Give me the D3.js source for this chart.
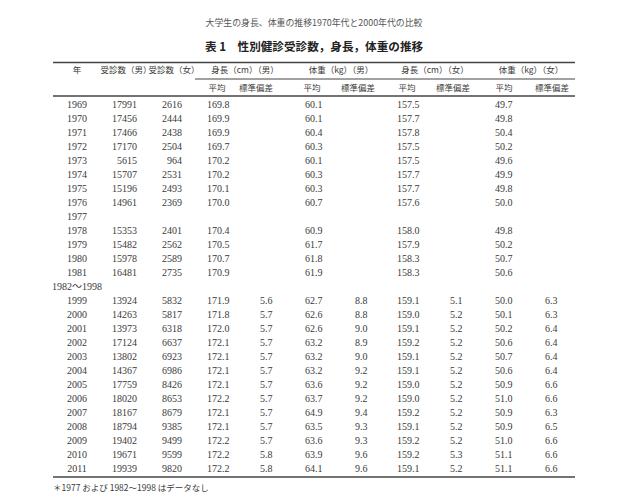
<!DOCTYPE html>
<html><head><meta charset="utf-8">
<script src="https://cdn.jsdelivr.net/npm/d3@7"></script>
<style>
html,body{margin:0;padding:0;background:#fff;}
svg{display:block;}
</style></head>
<body>
<script>
// ---- data ----
const subtitle = "大学生の身長、体重の推移1970年代と2000年代の比較";
const title = "表 1　性別健診受診数，身長，体重の推移";
const footnote = "＊1977 および 1982～1998 はデータなし";
const groupHeaders = ["年", "受診数（男）", "受診数（女）", "身長（cm）（男）", "体重（kg）（男）", "身長（cm）（女）", "体重（kg）（女）"];
const subHeaders = ["平均", "標準偏差"];
const rowLabels = ["1969","1970","1971","1972","1973","1974","1975","1976","1977","1978","1979","1980","1981","1982～1998",
  "1999","2000","2001","2002","2003","2004","2005","2006","2007","2008","2009","2010","2011"];
const maleCount   = [17991,17456,17466,17170,5615,15707,15196,14961,null,15353,15482,15978,16481,null,
  13924,14263,13973,17124,13802,14367,17759,18020,18167,18794,19402,19671,19939];
const femaleCount = [2616,2444,2438,2504,964,2531,2493,2369,null,2401,2562,2589,2735,null,
  5832,5817,6318,6637,6923,6986,8426,8653,8679,9385,9499,9599,9820];
const maleHeight  = [169.8,169.9,169.9,169.7,170.2,170.2,170.1,170.0,null,170.4,170.5,170.7,170.9,null,
  171.9,171.8,172.0,172.1,172.1,172.1,172.1,172.2,172.1,172.1,172.2,172.2,172.2];
const maleHeightSD= [null,null,null,null,null,null,null,null,null,null,null,null,null,null,
  5.6,5.7,5.7,5.7,5.7,5.7,5.7,5.7,5.7,5.7,5.7,5.8,5.8];
const maleWeight  = [60.1,60.1,60.4,60.3,60.1,60.3,60.3,60.7,null,60.9,61.7,61.8,61.9,null,
  62.7,62.6,62.6,63.2,63.2,63.2,63.6,63.7,64.9,63.5,63.6,63.9,64.1];
const maleWeightSD= [null,null,null,null,null,null,null,null,null,null,null,null,null,null,
  8.8,8.8,9.0,8.9,9.0,9.2,9.2,9.2,9.4,9.3,9.3,9.6,9.6];
const femaleHeight= [157.5,157.7,157.8,157.5,157.5,157.7,157.7,157.6,null,158.0,157.9,158.3,158.3,null,
  159.1,159.0,159.1,159.2,159.1,159.1,159.0,159.0,159.2,159.1,159.2,159.2,159.1];
const femaleHeightSD=[null,null,null,null,null,null,null,null,null,null,null,null,null,null,
  5.1,5.2,5.2,5.2,5.2,5.2,5.2,5.2,5.2,5.2,5.2,5.3,5.2];
const femaleWeight= [49.7,49.8,50.4,50.2,49.6,49.9,49.8,50.0,null,49.8,50.2,50.7,50.6,null,
  50.0,50.1,50.2,50.6,50.7,50.6,50.9,51.0,50.9,50.9,51.0,51.1,51.1];
const femaleWeightSD=[null,null,null,null,null,null,null,null,null,null,null,null,null,null,
  6.3,6.3,6.4,6.4,6.4,6.4,6.6,6.6,6.3,6.5,6.6,6.6,6.6];

// ---- layout ----
const W = 640, H = 497;
const serif = "'Liberation Serif','DejaVu Serif','Noto Sans CJK JP',serif";
const cjk = "'Noto Sans CJK JP','Liberation Serif',sans-serif";
const ink = "#3a3a3a";

const svg = d3.select("body").append("svg").attr("width", W).attr("height", H);

const y = d3.scalePoint().domain(rowLabels).range([104, 468]);

const cols = [
  {v: maleCount,     x: 137, a: "end",   f: d => d3.format("d")(d)},
  {v: femaleCount,   x: 182, a: "end",   f: d => d3.format("d")(d)},
  {v: maleHeight,    x: 207, a: "start", f: d3.format(".1f")},
  {v: maleHeightSD,  x: 260, a: "start", f: d3.format(".1f")},
  {v: maleWeight,    x: 305, a: "start", f: d3.format(".1f")},
  {v: maleWeightSD,  x: 355, a: "start", f: d3.format(".1f")},
  {v: femaleHeight,  x: 397, a: "start", f: d3.format(".1f")},
  {v: femaleHeightSD,x: 450, a: "start", f: d3.format(".1f")},
  {v: femaleWeight,  x: 495, a: "start", f: d3.format(".1f")},
  {v: femaleWeightSD,x: 545, a: "start", f: d3.format(".1f")}
];

// titles
svg.append("text").attr("x", 314).attr("y", 23).attr("dy", "0.35em")
  .attr("text-anchor", "middle").attr("font-family", cjk).attr("font-size", 8.9)
  .attr("fill", "#555").text(subtitle);
svg.append("text").attr("x", 314).attr("y", 47).attr("dy", "0.35em")
  .attr("text-anchor", "middle").attr("font-family", cjk).attr("font-size", 11.6)
  .attr("font-weight", "bold").attr("fill", "#222").text(title);

// rules
const rules = [
  {x1: 53, x2: 575, y: 62.5, w: 1.5},
  {x1: 195, x2: 575, y: 79, w: 1},
  {x1: 53, x2: 575, y: 96, w: 1.5},
  {x1: 53, x2: 575, y: 477, w: 1.5}
];
svg.selectAll("line.rule").data(rules).join("line").attr("class", "rule")
  .attr("x1", d => d.x1).attr("x2", d => d.x2).attr("y1", d => d.y).attr("y2", d => d.y)
  .attr("stroke", "#444").attr("stroke-width", d => d.w);

// group headers
const ghX = [77, 126, 174, 245, 341, 435, 531];
svg.selectAll("text.gh").data(groupHeaders).join("text").attr("class", "gh")
  .attr("x", (d, i) => ghX[i]).attr("y", 70).attr("dy", "0.35em")
  .attr("text-anchor", "middle").attr("font-family", cjk).attr("font-size", 8.5)
  .attr("fill", ink).text(d => d);

// sub headers
const shX = [217, 256, 312, 358, 407, 453, 504, 552];
svg.selectAll("text.sh").data(shX).join("text").attr("class", "sh")
  .attr("x", d => d).attr("y", 88).attr("dy", "0.35em")
  .attr("text-anchor", "middle").attr("font-family", cjk).attr("font-size", 8.5)
  .attr("fill", ink).text((d, i) => subHeaders[i % 2]);

// row labels
svg.selectAll("text.rl").data(rowLabels).join("text").attr("class", "rl")
  .attr("x", 77).attr("y", d => y(d)).attr("dy", "0.35em")
  .attr("text-anchor", "middle").attr("font-family", serif).attr("font-size", 10)
  .attr("fill", ink).text(d => d);

// cells
cols.forEach((c, ci) => {
  const cells = rowLabels.map((r, i) => ({r, val: c.v[i]})).filter(d => d.val != null);
  svg.selectAll("text.c" + ci).data(cells).join("text").attr("class", "c" + ci)
    .attr("x", c.x).attr("y", d => y(d.r)).attr("dy", "0.35em")
    .attr("text-anchor", c.a).attr("font-family", serif).attr("font-size", 10)
    .attr("fill", ink).text(d => c.f(d.val));
});

// footnote
svg.append("text").attr("x", 53).attr("y", 488).attr("dy", "0.35em")
  .attr("font-family", cjk).attr("font-size", 8.5).attr("fill", ink).text(footnote);
</script>
</body></html>
